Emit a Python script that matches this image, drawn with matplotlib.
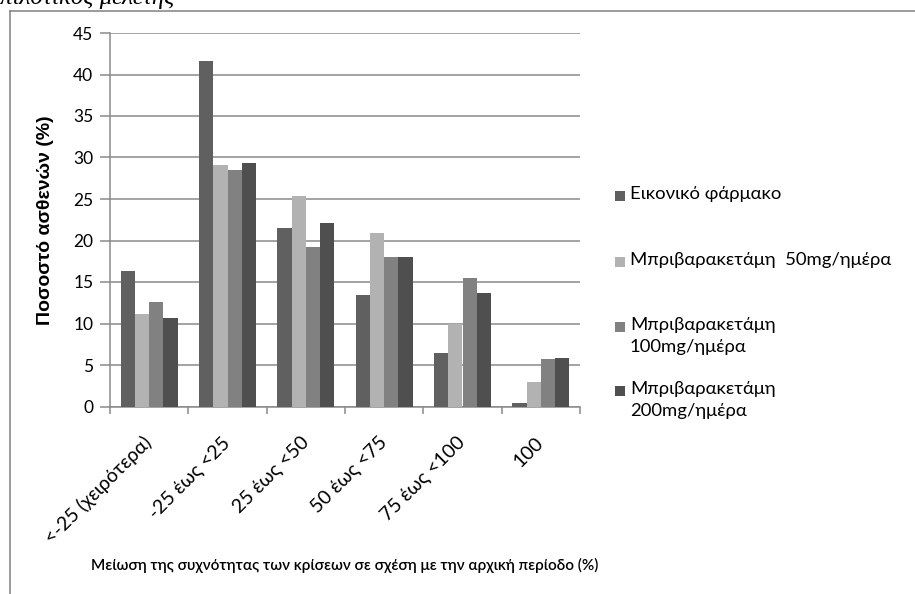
import matplotlib.pyplot as plt
import matplotlib.patches as patches
import numpy as np

plt.rcParams['font.family'] = ['Lato', 'Roboto', 'DejaVu Sans']

categories = ['<-25 (χειρότερα)', '-25 έως <25', '25 έως <50', '50 έως <75', '75 έως <100', '100']
series_names = ['Εικονικό φάρμακο', 'Μπριβαρακετάμη  50mg/ημέρα',
                'Μπριβαρακετάμη\n100mg/ημέρα', 'Μπριβαρακετάμη\n200mg/ημέρα']
placebo = [16.3, 41.6, 21.5, 13.4, 6.4, 0.4]
briv_50 = [11.1, 29.1, 25.4, 20.9, 9.9, 2.9]
briv_100 = [12.6, 28.5, 19.2, 18.0, 15.5, 5.7]
briv_200 = [10.7, 29.3, 22.1, 18.0, 13.7, 5.9]
colors = ['#606060', '#b2b2b2', '#818181', '#4f4f4f']

W, H = 915, 594
fig = plt.figure(figsize=(W / 100, H / 100), dpi=100)
ax = fig.add_axes([110 / W, 1 - 406.5 / H, 470 / W, 373.5 / H])

values = [placebo, briv_50, briv_100, briv_200]
x = np.arange(len(categories))
bw = 0.182
for i, (vals, c) in enumerate(zip(values, colors)):
    ax.bar(x + (i - 1.5) * bw, vals, bw, color=c, edgecolor='none', zorder=3)

ax.set_xlim(-0.5, len(categories) - 0.5)
ax.set_ylim(0, 45)
ax.set_yticks(range(0, 46, 5))
ax.yaxis.grid(True, color='#8a8a8a', linewidth=1.1, zorder=0)
for s in ['top', 'right']:
    ax.spines[s].set_visible(False)
for s in ['left', 'bottom']:
    ax.spines[s].set_color('#8a8a8a')
    ax.spines[s].set_linewidth(1.1)
ax.tick_params(axis='y', length=7, color='#8a8a8a', width=1.1, labelsize=12.5, pad=5)
ax.set_xticks(x)
ax.set_xticklabels(categories, rotation=45, ha='right', va='center', rotation_mode='anchor', fontsize=14)
ax.tick_params(axis='x', length=0, pad=24)
# boundary ticks between groups
ax.set_xticks(np.arange(-0.5, len(categories), 1), minor=True)
ax.tick_params(axis='x', which='minor', length=5, color='#8a8a8a', width=1.1)

ax.set_ylabel('Ποσοστό ασθενών (%)', family=['Liberation Sans', 'DejaVu Sans'],
              fontsize=14, fontweight='bold', labelpad=14)
fig.text(345 / W, 1 - 565 / H, 'Μείωση της συχνότητας των κρίσεων σε σχέση με την αρχική περίοδο (%)',
         ha='center', va='center', fontsize=11, fontweight='semibold')

# legend entries on the right
legend_y = [196, 262, 327, 391]
for name, c, ly in zip(series_names, colors, legend_y):
    fig.patches.append(patches.Rectangle((615 / W, 1 - (ly + 5) / H), 10 / W, 10 / H,
                                         facecolor=c, edgecolor='none', transform=fig.transFigure))
    fig.text(630 / W, 1 - (ly - 10) / H, name, ha='left', va='top', fontsize=13.3, linespacing=1.45)

# outer frame and clipped caption line above it
fig.add_artist(plt.Line2D([10 / W, 10 / W], [0, 1 - 11 / H], color='#8a8a8a', linewidth=1.2))
fig.add_artist(plt.Line2D([10 / W, 1], [1 - 11 / H, 1 - 11 / H], color='#8a8a8a', linewidth=1.2))
fig.text(0 / W, 1 - 4 / H, 'πιλοτικός μελέτης', family='Liberation Serif', style='italic',
         fontsize=18, ha='left', va='baseline')

fig.savefig('out.png', dpi=100, facecolor='white')
